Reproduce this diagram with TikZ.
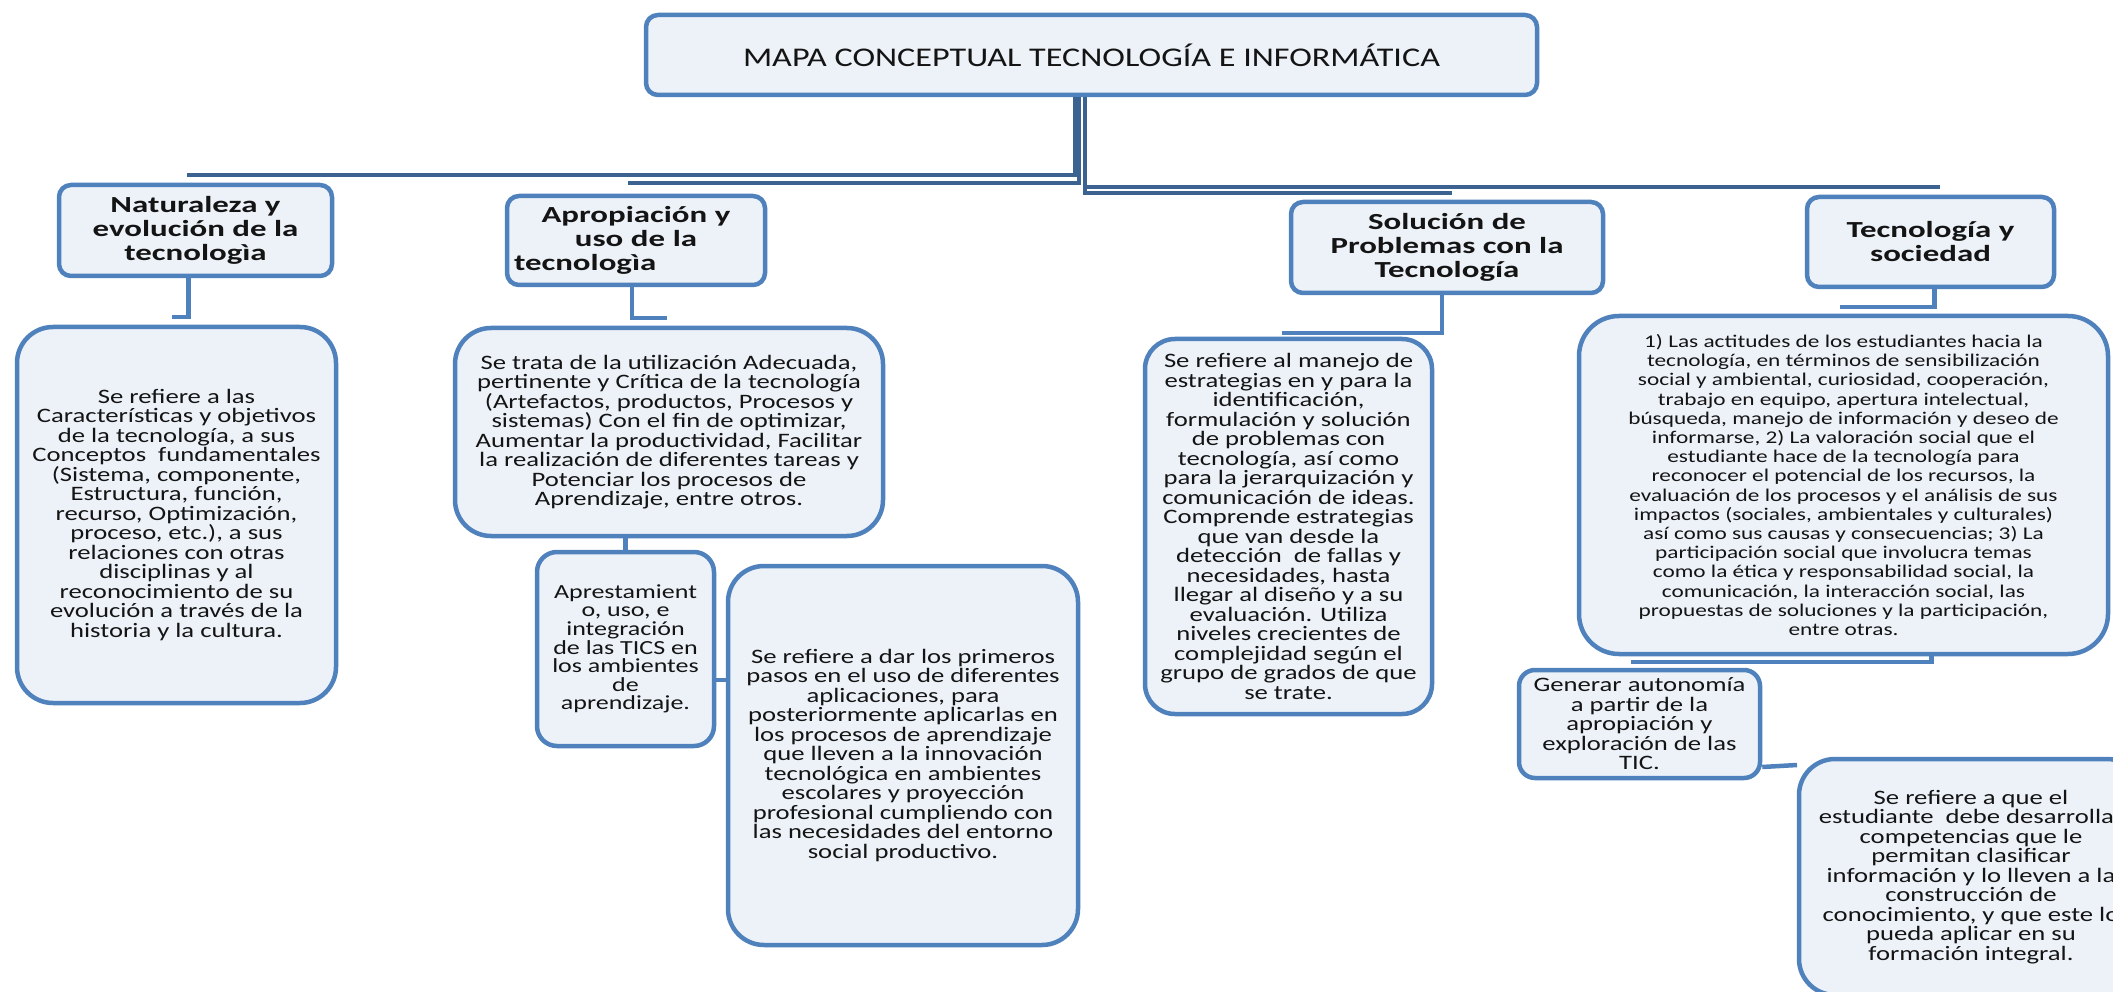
\documentclass[tikz,border=0pt]{standalone}
\usepackage{fontspec}
\setmainfont{Carlito}[FakeStretch=1.265]
\newfontfamily\descfont{Carlito}[FakeStretch=1.30]
\newfontfamily\headfont{Carlito}[FakeStretch=1.43]
\definecolor{boxblue}{RGB}{79,129,189}
\definecolor{boxfill}{RGB}{237,242,249}
\definecolor{trunkblue}{RGB}{60,98,146}
\definecolor{txt}{RGB}{20,20,20}
\tikzset{
  box/.style={draw=boxblue, line width=4.5pt, fill=boxfill, rounded corners=#1,
    align=center, inner sep=0pt, text=txt},
  box/.default=12pt,
  desc/.style={font=\descfont\fontsize{20.5}{19.5}\selectfont},
  smalldesc/.style={font=\descfont\fontsize{17.9}{19.2}\selectfont},
  head/.style={font=\headfont\bfseries\fontsize{23}{24}\selectfont},
  trunk/.style={draw=trunkblue, line width=4pt},
  link/.style={draw=boxblue, line width=4.5pt},
}
\begin{document}
\begin{tikzpicture}[x=1pt,y=-1pt]
\useasboundingbox (0,0) rectangle (2113,992);
\fill[white] (0,0) rectangle (2113,992);
\clip (0,0) rectangle (2113,992);

% title
\node[box, minimum width=891pt, minimum height=80pt, font=\fontsize{27}{30}\selectfont] (title) at (1091.5,55) {MAPA CONCEPTUAL TECNOLOGÍA E INFORMÁTICA};

% headers
\node[box, head, minimum width=273pt, minimum height=91pt] (natH) at (195.5,230.5) {Naturaleza y\\evolución de la\\tecnologìa};
\node[box, head, minimum width=258pt, minimum height=89pt, text width=244pt] (apH) at (636,240.5) {Apropiación y\\uso de la\\tecnologìa\hfill\mbox{}};
\node[box, head, minimum width=312pt, minimum height=91pt] (solH) at (1447,247.5) {Solución de\\Problemas con la\\Tecnología};
\node[box, head, minimum width=247pt, minimum height=90pt] (socH) at (1930.5,242) {Tecnología y\\sociedad};

% descriptions
\node[box=36pt, desc, minimum width=319pt, minimum height=376pt] (natD) at (176.5,515) {Se refiere a las\\Características y objetivos\\de la tecnología, a sus\\Conceptos~ fundamentales\\(Sistema, componente,\\Estructura, función,\\recurso, Optimización,\\proceso, etc.), a sus\\relaciones con otras\\disciplinas y al\\reconocimiento de su\\evolución a través de la\\historia y la cultura.};

\node[box=36pt, desc, minimum width=428pt, minimum height=208pt] (apD) at (669,432) {Se trata de la utilización Adecuada,\\pertinente y Crítica de la tecnología\\(Artefactos, productos, Procesos y\\sistemas) Con el fin de optimizar,\\Aumentar la productividad, Facilitar\\la realización de diferentes tareas y\\Potenciar los procesos de\\Aprendizaje, entre otros.};

\node[box=20pt, desc, minimum width=177pt, minimum height=194pt, font=\descfont\fontsize{20}{18.6}\selectfont] (aprest) at (625.5,649) {Aprestamient\\o, uso, e\\integración\\de las TICS en\\los ambientes\\de\\aprendizaje.};

\node[box=36pt, desc, minimum width=350pt, minimum height=379pt] (dar) at (903,755.5) {Se refiere a dar los primeros\\pasos en el uso de diferentes\\aplicaciones, para\\posteriormente aplicarlas en\\los procesos de aprendizaje\\que lleven a la innovación\\tecnológica en ambientes\\escolares y proyección\\profesional cumpliendo con\\las necesidades del entorno\\social productivo.};

\node[box=30pt, desc, minimum width=287pt, minimum height=375pt] (solD) at (1288.5,526.5) {Se refiere al manejo de\\estrategias en y para la\\identificación,\\formulación y solución\\de problemas con\\tecnología, así como\\para la jerarquización y\\comunicación de ideas.\\Comprende estrategias\\que van desde la\\detección~ de fallas y\\necesidades, hasta\\llegar al diseño y a su\\evaluación. Utiliza\\niveles crecientes de\\complejidad según el\\grupo de grados de que\\se trate.};

\node[box=40pt, smalldesc, minimum width=529pt, minimum height=338pt] (socD) at (1843.5,485) {1) Las actitudes de los estudiantes hacia la\\tecnología, en términos de sensibilización\\social y ambiental, curiosidad, cooperación,\\trabajo en equipo, apertura intelectual,\\búsqueda, manejo de información y deseo de\\informarse, 2) La valoración social que el\\estudiante hace de la tecnología para\\reconocer el potencial de los recursos, la\\evaluación de los procesos y el análisis de sus\\impactos (sociales, ambientales y culturales)\\así como sus causas y consecuencias; 3) La\\participación social que involucra temas\\como la ética y responsabilidad social, la\\comunicación, la interacción social, las\\propuestas de soluciones y la participación,\\entre otras.};

\node[box=16pt, desc, minimum width=241pt, minimum height=108pt] (gen) at (1639.5,724) {Generar autonomía\\a partir de la\\apropiación y\\exploración de las\\TIC.};

\node[box=36pt, desc, minimum width=344pt, minimum height=236pt] (est) at (1971,877) {Se refiere a que el\\estudiante~ debe desarrollar\\competencias que le\\permitan clasificar\\información y lo lleven a la\\construcción de\\conocimiento, y que este lo\\pueda aplicar en su\\formación integral.};

% trunk connectors
\coordinate (tA) at (1075,0);
\coordinate (tB) at (1079,0);
\coordinate (tC) at (1085,0);
\coordinate (eNat) at (187,175);
\coordinate (eAp) at (628,183);
\coordinate (eSoc) at (1940,187);
\coordinate (eSol) at (1452,193);
\draw[trunk] (title.south -| tA) |- (eNat);
\draw[trunk] (title.south -| tB) |- (eAp);
\draw[trunk] (title.south -| tC) |- (eSoc);
\draw[trunk] (title.south -| tC) |- (eSol);

% header to description
\coordinate (sNat) at (172,317);
\coordinate (sAp) at (667,318);
\coordinate (sSol) at (1282,333);
\coordinate (sSoc) at (1840,307);
\draw[link] ([xshift=-7pt]natH.south) |- (sNat);
\draw[link] ([xshift=-4pt]apH.south) |- (sAp);
\draw[link] ([xshift=-5pt]solH.south) |- (sSol);
\draw[link] ([xshift=4pt]socH.south) |- (sSoc);

% sub connectors
\draw[link] (apD.south -| aprest.north) -- (aprest.north);
\coordinate (ad) at (726,680);
\draw[link] (aprest.east |- ad) -- (ad);
\coordinate (gs) at (1631,662);
\draw[link] ([xshift=88pt]socD.south) |- (gs);
\coordinate (ge) at (1797,765);
\draw[link] ([yshift=-43pt]gen.east) -- (ge);
\end{tikzpicture}
\end{document}
